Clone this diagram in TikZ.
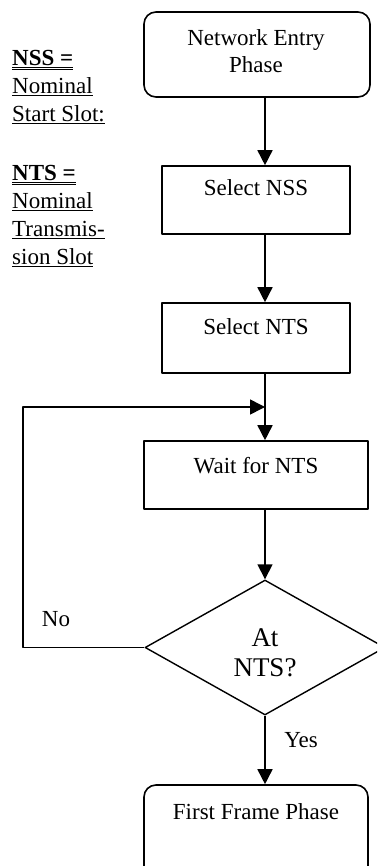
\documentclass[tikz,border=0pt]{standalone}
\usepackage{fontspec}
\setmainfont{Liberation Serif}
\usetikzlibrary{arrows.meta,shapes.geometric}

\newcommand\uln[1]{\underline{#1}}
\newcommand\ulln[1]{\underline{\underline{#1}}}

\tikzset{
	box/.style={draw, line width=1.6pt, minimum width=188pt, minimum height=68pt, inner sep=0pt},
	roundbox/.style={box, rounded corners=12pt, minimum width=226pt},
	decision/.style={diamond, draw, line width=1.4pt, minimum width=240pt, minimum height=135pt, inner sep=0pt},
	txt/.style={font=\fontsize{23}{27}\selectfont, inner sep=0pt, align=center},
	notes/.style={font=\fontsize{23}{28}\selectfont, inner sep=0pt, align=left, anchor=north west},
	flow/.style={->, line width=1.6pt},
}

\begin{document}
\begin{tikzpicture}[x=1pt,y=-1pt,>={Triangle[width=15pt,length=15pt]}, line join=round]
	\def\xmax{377} \def\ymax{866}
	\def\midx{265}
	\useasboundingbox (0,0) rectangle (\xmax,\ymax);
	\clip (0,0) rectangle (\xmax,\ymax);
	% legend on the left
	\node[notes] (nssnote) at (12,50) {\ulln{\textbf{NSS =}}\\\uln{Nominal}\\\uln{Start Slot:}};
	\node[notes] (ntsnote) at (12,165) {\ulln{\textbf{NTS =}}\\\uln{Nominal}\\\uln{Transmis-}\\\uln{sion Slot}};
	% boxes
	\node[roundbox, minimum height=85pt] (entry) at (257,54.5) {};
	\node[box] (nss) at (256,200) {};
	\node[box, minimum height=70pt] (nts) at (256,338) {};
	\node[box, minimum width=224pt] (wait) at (256,475) {};
	\node[decision] (atnts) at (\midx,647.5) {};
	\node[roundbox, minimum width=224pt, minimum height=100pt] (first) at (256,835) {};
	% texts
	\node[txt] (entrytxt) at (256,51.5) {Network Entry\\Phase};
	\node[txt] (nsstxt) at (256,188) {Select NSS};
	\node[txt] (ntstxt) at (256,327) {Select NTS};
	\node[txt] (waittxt) at (256,466) {Wait for NTS};
	\node[txt, font=\fontsize{27}{30}\selectfont] (attxt) at (\midx,653) {At\\NTS?};
	\node[txt] (firsttxt) at (256,812) {First Frame Phase};
	\node[txt] (yes) at (301,740) {Yes};
	\node[txt] (no) at (56,619) {No};
	% connectors
	\coordinate (mid) at (\midx,0);
	\coordinate (join) at (\midx,407);
	\coordinate (turn) at (23,647.5);
	\draw[flow] (entry.south -| mid) -- (nss.north -| mid);
	\draw[flow] (nss.south -| mid) -- (nts.north -| mid);
	\draw[flow] (nts.south -| mid) -- (wait.north -| mid);
	\draw[flow] (wait.south -| mid) -- (atnts.north);
	\draw[flow] (atnts.south) -- (first.north -| atnts.south);
	\draw[flow] (atnts.west) -- (turn) |- (join);
\end{tikzpicture}
\end{document}
